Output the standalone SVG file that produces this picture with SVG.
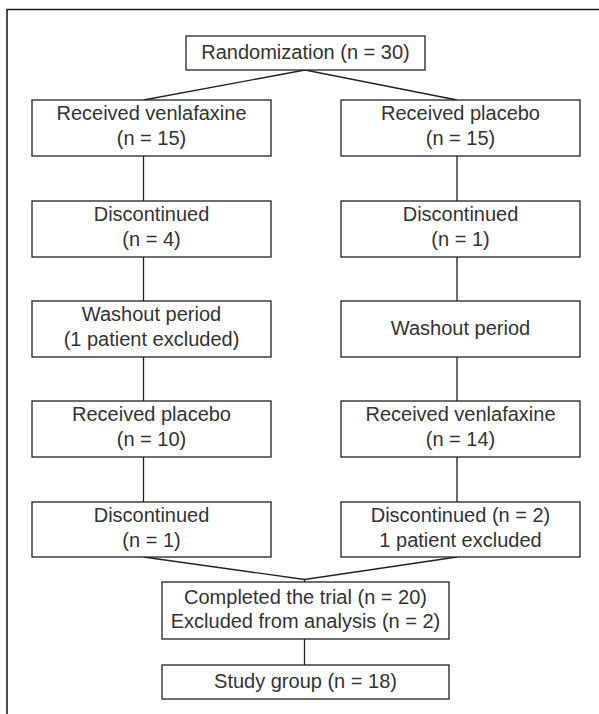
<svg xmlns="http://www.w3.org/2000/svg" width="599" height="714" viewBox="0 0 599 714">
<style>
.box{fill:#fff;stroke:#222;stroke-width:1.3}
.ln{fill:none;stroke:#222;stroke-width:1.3}
.frame{fill:none;stroke:#222;stroke-width:1.6}
text{font-family:"Liberation Sans",Arial,sans-serif;font-size:20px;fill:#333;text-anchor:middle}
</style>
<rect width="599" height="714" fill="#fff"/>
<path class="frame" d="M7,714 V9.5 H599"/>
<g id="connectors">
<path class="ln" d="M143.5,100 L305,70 L457,100"/>
<path class="ln" d="M143.5,156 V201 M143.5,257 V301 M143.5,357 V401 M143.5,457 V502"/>
<path class="ln" d="M457,156 V201 M457,257 V301 M457,357 V401 M457,457 V502"/>
<path class="ln" d="M143.5,557 L304.5,579.5 L457,557 M304.5,579.5 V582"/>
<path class="ln" d="M304.5,639 V665"/>
</g>
<g id="randomization"><rect class="box" x="186" y="36" width="239" height="34"/><text x="305.5" y="59">Randomization (n = 30)</text></g>
<g id="l1"><rect class="box" x="32" y="100" width="239" height="56"/><text x="151.5" y="120">Received venlafaxine</text><text x="151.5" y="145">(n = 15)</text></g>
<g id="r1"><rect class="box" x="341" y="100" width="239" height="56"/><text x="460.5" y="120">Received placebo</text><text x="460.5" y="145">(n = 15)</text></g>
<g id="l2"><rect class="box" x="32" y="201" width="239" height="56"/><text x="151.5" y="221">Discontinued</text><text x="151.5" y="246">(n = 4)</text></g>
<g id="r2"><rect class="box" x="341" y="201" width="239" height="56"/><text x="460.5" y="221">Discontinued</text><text x="460.5" y="246">(n = 1)</text></g>
<g id="l3"><rect class="box" x="32" y="301" width="239" height="56"/><text x="151.5" y="321">Washout period</text><text x="151.5" y="346">(1 patient excluded)</text></g>
<g id="r3"><rect class="box" x="341" y="301" width="239" height="56"/><text x="460.5" y="335">Washout period</text></g>
<g id="l4"><rect class="box" x="32" y="401" width="239" height="56"/><text x="151.5" y="421">Received placebo</text><text x="151.5" y="446">(n = 10)</text></g>
<g id="r4"><rect class="box" x="341" y="401" width="239" height="56"/><text x="460.5" y="421">Received venlafaxine</text><text x="460.5" y="446">(n = 14)</text></g>
<g id="l5"><rect class="box" x="32" y="502" width="239" height="55"/><text x="151.5" y="522">Discontinued</text><text x="151.5" y="547">(n = 1)</text></g>
<g id="r5"><rect class="box" x="341" y="502" width="239" height="55"/><text x="460.5" y="522">Discontinued (n = 2)</text><text x="460.5" y="547">1 patient excluded</text></g>
<g id="completed"><rect class="box" x="162" y="582" width="287" height="57"/><text x="305.5" y="604">Completed the trial (n = 20)</text><text x="305.5" y="628">Excluded from analysis (n = 2)</text></g>
<g id="study"><rect class="box" x="162" y="665" width="287" height="34"/><text x="305.5" y="688">Study group (n = 18)</text></g>
</svg>
